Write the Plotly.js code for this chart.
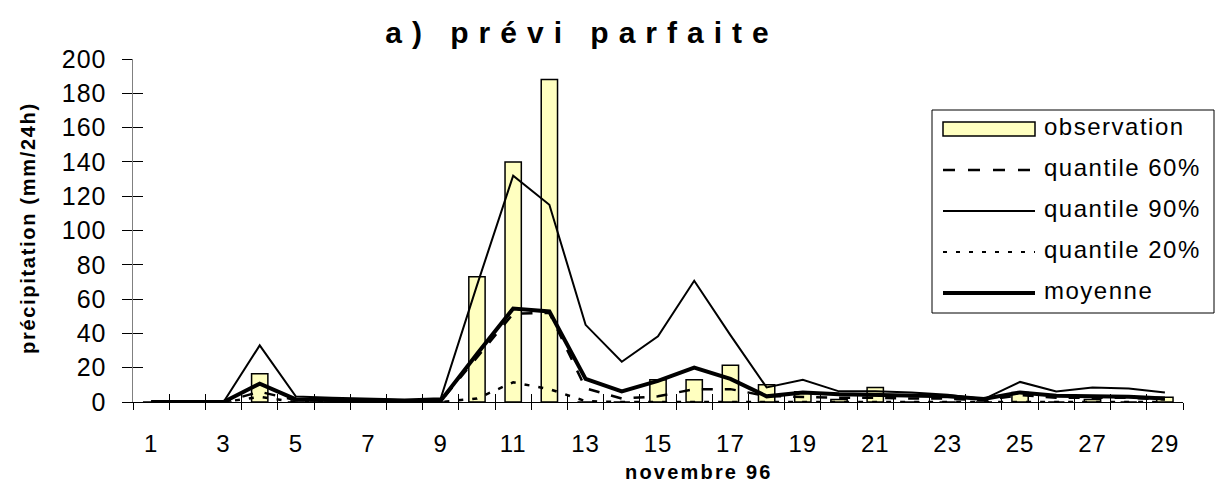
<!DOCTYPE html>
<html><head><meta charset="utf-8">
<script src="https://cdn.plot.ly/plotly-3.0.1.min.js"></script>
<style>body{margin:0;background:#fff}
.xtick text, .ytick text { letter-spacing: 1px; }
</style>
</head><body><div id="chart" style="width:1216px;height:496px"></div>
<script>
const days = [1,2,3,4,5,6,7,8,9,10,11,12,13,14,15,16,17,18,19,20,21,22,23,24,25,26,27,28,29];
const observation = [0,0,0,16.5,0,0,0,0,0,73,140,188,0,0,13,13,21.5,10,6,1.5,8.5,0,0,0,5.5,0,1.5,0,2.7];
const quantile60 = [0,0,0,6,1,0.8,0.8,0.3,0.5,26,51.5,52,8,2,3.3,7.5,7.5,3.5,3,2.5,2.5,2,2,1,4,2.5,2.5,2.5,1.5];
const quantile90 = [0,0,0,33,3.2,2.5,2,1.5,2.2,68,132,115,45,23.5,38.3,70.7,39,8.5,12.9,6.2,6.2,5.6,4.2,1.7,11.7,6.2,8.5,7.9,5.6];
const quantile20 = [0,0,0,3,0,0,0,0,0,2,11.5,7.5,0.5,0,0,0,0,0,0,0,0,0,0,0,0,0,0,0,0];
const moyenne = [0,0,0,10.7,1.5,1.2,1.2,0.5,0.8,28,54.5,52.8,13.5,6.2,12.3,20,13.5,3.3,5.6,4.5,4,3.7,3.3,1.7,5.6,3.7,3.3,3,2];
const xTickDays = [1,3,5,7,9,11,13,15,17,19,21,23,25,27,29];
const yTicks = [0,20,40,60,80,100,120,140,160,180,200];
const seriesNames = ['observation','quantile 60%','quantile 90%','quantile 20%','moyenne'];
const titleText = 'a) prévi parfaite';
const xTitle = 'novembre 96';
const yTitle = 'précipitation (mm/24h)';

const W=1216, H=496, L=133, R=33, T=59, B=94;
const pw = W-L-R, ph = H-T-B;
const pxX = v => (v-L)/pw;
const pxY = v => (H-B-v)/ph;
const FONT = 'Liberation Sans, Arial, sans-serif';
const boundaries = days.map(d => d-0.5).concat([days[days.length-1]+0.5]);

const styles = {
  q60: {color:'#000', width:2.5, dash:'11px,12px'},
  q90: {color:'#000', width:2},
  q20: {color:'#000', width:2.5, dash:'5px,9px'},
  moy: {color:'#000', width:4}
};

const traces = [
  {type:'bar', x:days, y:observation, width:0.45, name:seriesNames[0],
   marker:{color:'#FFFFC0', line:{color:'#000', width:1.5}}},
  {type:'scatter', mode:'lines', x:days, y:quantile20, name:seriesNames[3], line:styles.q20},
  {type:'scatter', mode:'lines', x:days, y:quantile60, name:seriesNames[1], line:styles.q60},
  {type:'scatter', mode:'lines', x:days, y:quantile90, name:seriesNames[2], line:styles.q90},
  {type:'scatter', mode:'lines', x:days, y:moyenne, name:seriesNames[4], line:styles.moy}
];

// legend (custom, to match long symbol samples)
const legL = 932, legR = 1214, legT = 110, legB = 313;
const rowY = [129, 170, 211, 252, 293];
const symL = 943, symR = 1035, txtL = 1042;
const shapes = [
  {type:'rect', xref:'paper', yref:'paper', x0:pxX(legL), x1:pxX(legR), y0:pxY(legT), y1:pxY(legB),
   fillcolor:'#fff', line:{color:'#000', width:1}},
  {type:'rect', xref:'paper', yref:'paper', x0:pxX(symL), x1:pxX(symR), y0:pxY(rowY[0]-7), y1:pxY(rowY[0]+7),
   fillcolor:'#FFFFC0', line:{color:'#000', width:1.5}},
  {type:'line', xref:'paper', yref:'paper', x0:pxX(symL), x1:pxX(symR), y0:pxY(rowY[1]), y1:pxY(rowY[1]), line:{color:'#000', width:2.5, dash:'12px,13px'}},
  {type:'line', xref:'paper', yref:'paper', x0:pxX(symL), x1:pxX(symR), y0:pxY(rowY[2]), y1:pxY(rowY[2]), line:styles.q90},
  {type:'line', xref:'paper', yref:'paper', x0:pxX(symL), x1:pxX(symR), y0:pxY(rowY[3]), y1:pxY(rowY[3]), line:{color:'#000', width:2, dash:'4px,9px'}},
  {type:'line', xref:'paper', yref:'paper', x0:pxX(symL), x1:pxX(symR), y0:pxY(rowY[4]), y1:pxY(rowY[4]), line:styles.moy}
];

const annotations = seriesNames.map((n,i) => ({
  xref:'paper', yref:'paper', x:pxX(txtL), y:pxY(rowY[i]-3), xanchor:'left', yanchor:'middle',
  showarrow:false, text:'<span style="letter-spacing:1.5px">'+n+'</span>',
  font:{family:FONT, size:24, color:'#000'}
}));
annotations.push({
  xref:'paper', yref:'paper', x:pxX(699), y:pxY(472), xanchor:'center', yanchor:'middle', showarrow:false,
  text:'<span style="letter-spacing:2.2px">'+xTitle+'</span>', font:{family:FONT, size:20, color:'#000', weight:'bold'}
});
annotations.push({
  xref:'paper', yref:'paper', x:pxX(28), y:pxY(228), xanchor:'center', yanchor:'middle', showarrow:false, textangle:-90,
  text:'<span style="letter-spacing:1.7px">'+yTitle+'</span>', font:{family:FONT, size:20, color:'#000', weight:'bold'}
});

const axBase = {showgrid:false, zeroline:false, fixedrange:true};
const layout = {
  width:W, height:H, margin:{l:L, r:R, t:T, b:B}, showlegend:false,
  paper_bgcolor:'#fff', plot_bgcolor:'rgba(0,0,0,0)',
  title:{text:'<span style="letter-spacing:10px">'+titleText+'</span>', x:582/W, xanchor:'center', y:1-32/H, yanchor:'middle',
         font:{family:FONT, size:30, color:'#000', weight:'bold'}},
  xaxis:Object.assign({}, axBase, {range:[0.5,29.5], tickmode:'array', tickvals:xTickDays, ticktext:xTickDays.map(String),
     ticks:'', showline:true, linecolor:'#000', linewidth:1, tickfont:{family:FONT, size:24, color:'#000'}, ticklabelstandoff:20}),
  xaxis2:Object.assign({}, axBase, {overlaying:'x', anchor:'y', range:[0.5,29.5], tickmode:'array', tickvals:boundaries,
     ticks:'outside', ticklen:7, tickcolor:'#000', tickwidth:1, showticklabels:false, showline:false}),
  xaxis3:Object.assign({}, axBase, {overlaying:'x', anchor:'y', range:[0.5,29.5], tickmode:'array', tickvals:boundaries,
     ticks:'inside', ticklen:8, tickcolor:'#000', tickwidth:1, showticklabels:false, showline:false}),
  yaxis:Object.assign({}, axBase, {range:[0,200], tickmode:'array', tickvals:yTicks, ticks:'outside', ticklen:10, tickcolor:'#000', tickwidth:1,
     showline:true, linecolor:'#808080', linewidth:1.5, tickfont:{family:FONT, size:25, color:'#000'}, ticklabelstandoff:10}),
  yaxis2:Object.assign({}, axBase, {overlaying:'y', anchor:'x', range:[0,200], tickmode:'array', tickvals:yTicks, ticks:'inside', ticklen:10,
     tickcolor:'#000', tickwidth:1, showticklabels:false, showline:false}),
  shapes:shapes, annotations:annotations
};
// empty helper traces so overlay axes are rendered
traces.push({type:'scatter', x:[], y:[], xaxis:'x2', yaxis:'y', hoverinfo:'skip'});
traces.push({type:'scatter', x:[], y:[], xaxis:'x3', yaxis:'y', hoverinfo:'skip'});
traces.push({type:'scatter', x:[], y:[], xaxis:'x', yaxis:'y2', hoverinfo:'skip'});
Plotly.newPlot('chart', traces, layout, {displayModeBar:false, staticPlot:true});
</script></body></html>
